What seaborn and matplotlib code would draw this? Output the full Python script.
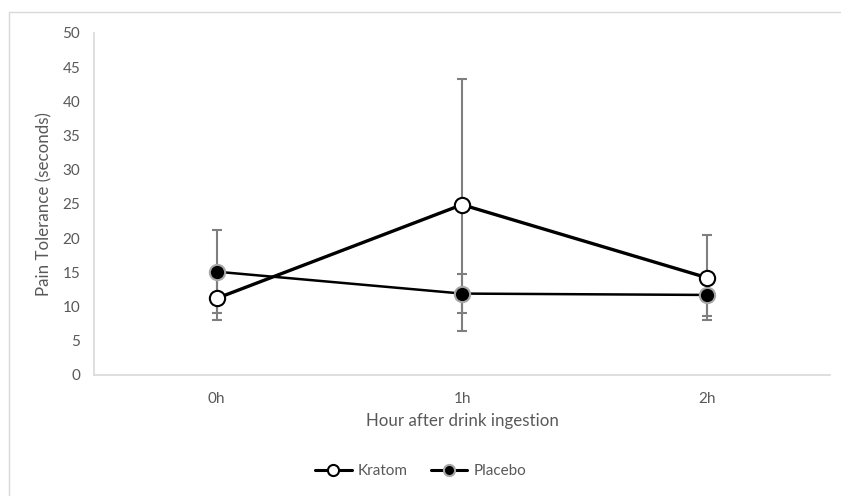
import matplotlib
matplotlib.use("Agg")
import matplotlib.pyplot as plt
import pandas as pd
import seaborn as sns
from matplotlib.lines import Line2D

hours = ["0h", "1h", "2h"]
kratom_mean = [11.2, 24.9, 14.2]
kratom_sd = [3.1, 18.4, 6.2]
placebo_mean = [15.1, 11.9, 11.7]
placebo_sd = [6.1, 2.8, 3.1]

sns.set_theme(style="white")
plt.rcParams["font.family"] = ["Lato", "DejaVu Sans"]

text_col = "#595959"

df = pd.DataFrame({
    "hour": hours * 2,
    "tolerance": kratom_mean + placebo_mean,
    "group": ["Kratom"] * 3 + ["Placebo"] * 3,
})

fig = plt.figure(figsize=(8.41, 4.96), dpi=100)
ax = fig.add_axes([0.1118, 0.244, 0.8752, 0.6895])

# error bars first so the markers sit on top
xpos = list(range(len(hours)))
ax.errorbar(xpos, kratom_mean, yerr=kratom_sd, fmt="none", ecolor="#7f7f7f",
            elinewidth=1.5, capsize=3.5, capthick=1.5, zorder=1)
ax.errorbar(xpos, placebo_mean, yerr=placebo_sd, fmt="none", ecolor="#7f7f7f",
            elinewidth=1.5, capsize=3.5, capthick=1.5, zorder=1)

sns.lineplot(data=df[df["group"] == "Kratom"], x="hour", y="tolerance", ax=ax,
             color="black", lw=2.4, marker="o", markersize=11,
             markerfacecolor="white", markeredgecolor="black",
             markeredgewidth=1.5, zorder=3, legend=False)
sns.lineplot(data=df[df["group"] == "Placebo"], x="hour", y="tolerance", ax=ax,
             color="black", lw=1.8, marker="o", markersize=11,
             markerfacecolor="black", markeredgecolor="#a6a6a6",
             markeredgewidth=1.5, zorder=2, legend=False)

ax.set_xlim(-0.5, 2.5)
ax.set_ylim(0, 50)
ax.set_yticks(range(0, 51, 5))
ax.tick_params(axis="both", length=0, labelsize=11, labelcolor=text_col)
ax.tick_params(axis="x", pad=12)
ax.tick_params(axis="y", pad=10)

for side in ["top", "right"]:
    ax.spines[side].set_visible(False)
for side in ["left", "bottom"]:
    ax.spines[side].set_color("#d9d9d9")
    ax.spines[side].set_linewidth(1.2)

ax.set_xlabel("Hour after drink ingestion", fontsize=12.2, color=text_col, labelpad=5)
ax.set_ylabel("Pain Tolerance (seconds)", fontsize=12.2, color=text_col, labelpad=7)

handles = [
    Line2D([], [], color="black", lw=2.2, marker="o", markersize=8,
           markerfacecolor="white", markeredgecolor="black", markeredgewidth=1.5),
    Line2D([], [], color="black", lw=2.2, marker="o", markersize=8,
           markerfacecolor="black", markeredgecolor="#a6a6a6", markeredgewidth=1.5),
]
fig.legend(handles, ["Kratom", "Placebo"], loc="center", bbox_to_anchor=(0.5, 0.05),
           ncol=2, frameon=False, fontsize=11, labelcolor=text_col,
           handlelength=2.4, handletextpad=0.4, columnspacing=1.5)

# chart border (only left and top visible in the crop)
fig.add_artist(Line2D([0.0107, 0.0107], [0.0, 0.976], transform=fig.transFigure,
                      color="#d9d9d9", lw=1))
fig.add_artist(Line2D([0.0107, 1.0], [0.976, 0.976], transform=fig.transFigure,
                      color="#d9d9d9", lw=1))

fig.savefig("out.png", dpi=100)
plt.close(fig)
